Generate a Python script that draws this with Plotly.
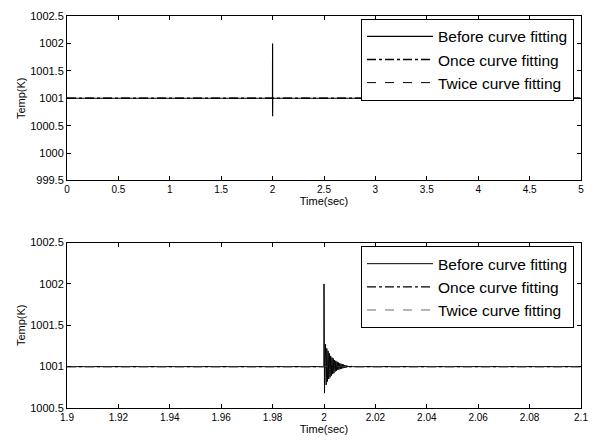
import plotly.graph_objects as go
from plotly.subplots import make_subplots

# ---- data ----
top_t_before = [0.0, 1.999, 2.0, 2.0, 2.001, 5.0]
top_y_before = [1001.0, 1001.0, 1002.0, 1000.67, 1001.0, 1001.0]
top_t_once = [0.0, 5.0]
top_y_once = [1001.0, 1001.0]
top_t_twice = [0.0, 5.0]
top_y_twice = [1001.0, 1001.0]

bot_t_before = [1.9, 1.99995, 2.0, 2.0002, 2.0004,
                2.00060, 2.00085, 2.00110, 2.00135, 2.00160, 2.00185, 2.00210, 2.00235,
                2.00260, 2.00285, 2.00310, 2.00335, 2.00360, 2.00385, 2.00410, 2.00435,
                2.00460, 2.00485, 2.00510, 2.00535, 2.00560, 2.00585, 2.00610, 2.00635,
                2.00660, 2.00685, 2.00710, 2.00735, 2.00760, 2.00785, 2.00810, 2.00835,
                2.00860, 2.00885, 2.00910, 2.00935, 2.00960, 2.00985, 2.01010, 2.01035,
                2.01060, 2.0110, 2.1]
bot_y_before = [1001.0, 1001.0, 1002.0, 1000.68, 1001.1,
                1001.27, 1000.78, 1001.22, 1000.82, 1001.19, 1000.85, 1001.16, 1000.87,
                1001.13, 1000.89, 1001.11, 1000.91, 1001.10, 1000.92, 1001.08, 1000.94,
                1001.07, 1000.95, 1001.06, 1000.96, 1001.05, 1000.965, 1001.04, 1000.97,
                1001.035, 1000.975, 1001.03, 1000.98, 1001.025, 1000.985, 1001.02, 1000.99,
                1001.015, 1000.99, 1001.01, 1000.995, 1001.008, 1000.995, 1001.005, 1000.997,
                1001.004, 1001.0, 1001.0]
bot_t_once = [1.9, 2.0, 2.0146, 2.1]
bot_y_once = [1001.0, 1001.0, 1001.0, 1001.0]
bot_t_twice = [1.9, 2.1]
bot_y_twice = [1001.0, 1001.0]

top_xticks = [0, 0.5, 1, 1.5, 2, 2.5, 3, 3.5, 4, 4.5, 5]
top_xlabels = ["0", "0.5", "1", "1.5", "2", "2.5", "3", "3.5", "4", "4.5", "5"]
top_yticks = [999.5, 1000, 1000.5, 1001, 1001.5, 1002, 1002.5]
top_ylabels = ["999.5", "1000", "1000.5", "1001", "1001.5", "1002", "1002.5"]
bot_xticks = [1.9, 1.92, 1.94, 1.96, 1.98, 2.0, 2.02, 2.04, 2.06, 2.08, 2.1]
bot_xlabels = ["1.9", "1.92", "1.94", "1.96", "1.98", "2", "2.02", "2.04", "2.06", "2.08", "2.1"]
bot_yticks = [1000.5, 1001, 1001.5, 1002, 1002.5]
bot_ylabels = ["1000.5", "1001", "1001.5", "1002", "1002.5"]

names = ["Before curve fitting", "Once curve fitting", "Twice curve fitting"]

FONT = "Liberation Sans, Arial, sans-serif"

fig = make_subplots(rows=2, cols=1, vertical_spacing=0.1583)

# top traces
fig.add_trace(go.Scatter(x=top_t_before, y=top_y_before, mode="lines", name=names[0],
                         line=dict(color="black", width=1.2), legend="legend"), row=1, col=1)
fig.add_trace(go.Scatter(x=top_t_once, y=top_y_once, mode="lines", name=names[1],
                         line=dict(color="black", width=1.5, dash="dashdot"), legend="legend"), row=1, col=1)
fig.add_trace(go.Scatter(x=top_t_twice, y=top_y_twice, mode="lines", name=names[2],
                         line=dict(color="black", width=1, dash="dash"), legend="legend"), row=1, col=1)
# bottom traces
fig.add_trace(go.Scatter(x=bot_t_before, y=bot_y_before, mode="lines", name=names[0],
                         line=dict(color="black", width=1), legend="legend2"), row=2, col=1)
fig.add_trace(go.Scatter(x=bot_t_once, y=bot_y_once, mode="lines", name=names[1],
                         line=dict(color="black", width=1.2, dash="dashdot"), legend="legend2"), row=2, col=1)
fig.add_trace(go.Scatter(x=bot_t_twice, y=bot_y_twice, mode="lines", name=names[2],
                         line=dict(color="#444", width=0.8, dash="dash"), legend="legend2"), row=2, col=1)

axis_common = dict(showgrid=False, zeroline=False, showline=True, linecolor="black", linewidth=1,
                   mirror="ticks", ticks="inside", ticklen=4, tickcolor="black", tickwidth=1)

fig.update_xaxes(**axis_common, range=[0, 5], tickvals=top_xticks, ticktext=top_xlabels,
                 tickfont=dict(family=FONT, size=10, color="black"),
                 title=dict(text="Time(sec)", font=dict(family=FONT, size=11, color="black"), standoff=2),
                 row=1, col=1)
fig.update_xaxes(**axis_common, range=[1.9, 2.1], tickvals=bot_xticks, ticktext=bot_xlabels,
                 tickfont=dict(family=FONT, size=10, color="black"),
                 title=dict(text="Time(sec)", font=dict(family=FONT, size=11, color="black"), standoff=2),
                 row=2, col=1)
fig.update_yaxes(**axis_common, range=[999.5, 1002.5], tickvals=top_yticks, ticktext=top_ylabels,
                 tickfont=dict(family=FONT, size=11, color="black"),
                 title=dict(text="Temp(K)", font=dict(family=FONT, size=11, color="black"), standoff=2),
                 row=1, col=1)
fig.update_yaxes(**axis_common, range=[1000.5, 1002.5], tickvals=bot_yticks, ticktext=bot_ylabels,
                 tickfont=dict(family=FONT, size=11, color="black"),
                 title=dict(text="Temp(K)", font=dict(family=FONT, size=11, color="black"), standoff=2),
                 row=2, col=1)

fig.update_layout(xaxis=dict(domain=[0, 1]), yaxis=dict(domain=[0.5804, 1.0]),
                  xaxis2=dict(domain=[0, 1]), yaxis2=dict(domain=[0.0, 0.4221]))

legend_common = dict(font=dict(family=FONT, size=15.5, color="black"), bgcolor="white",
                     bordercolor="black", borderwidth=1, xanchor="left", yanchor="top",
                     tracegroupgap=0, itemwidth=66)
fig.update_layout(
    legend=dict(**legend_common, x=0.572, y=0.993),
    legend2=dict(**legend_common, x=0.572, y=0.413),
    width=598, height=443,
    margin=dict(l=67, r=10, t=15, b=30),
    paper_bgcolor="white", plot_bgcolor="white",
    showlegend=True,
)

fig.write_html("out.html")
